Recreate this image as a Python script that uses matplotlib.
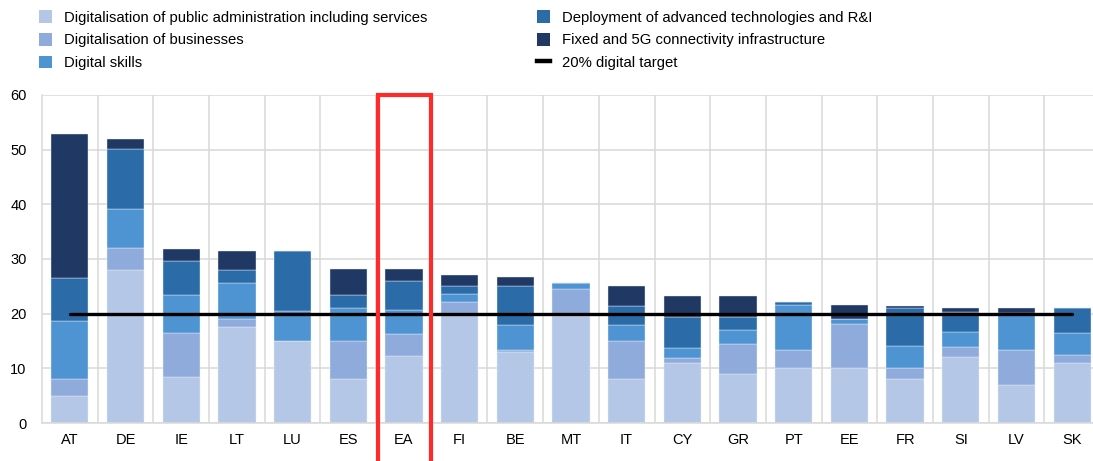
import numpy as np
import matplotlib
matplotlib.use("Agg")
import matplotlib.pyplot as plt
from matplotlib.patches import Patch, Rectangle
from matplotlib.lines import Line2D

plt.rcParams["font.family"] = ["Liberation Sans", "DejaVu Sans"]

countries = ["AT", "DE", "IE", "LT", "LU", "ES", "EA", "FI", "BE", "MT",
             "IT", "CY", "GR", "PT", "EE", "FR", "SI", "LV", "SK"]

public_admin = [5.0, 28.0, 8.5, 17.5, 15.0, 8.0, 12.2, 20.0, 13.0, 19.5,
                8.0, 10.9, 8.9, 10.0, 10.0, 8.0, 12.0, 7.0, 11.0]
businesses = [3.0, 4.0, 8.0, 1.5, 0.0, 7.0, 4.0, 2.2, 0.4, 5.1,
              7.0, 0.9, 5.5, 3.4, 8.2, 2.0, 1.9, 6.4, 1.4]
skills = [10.6, 7.1, 7.0, 6.6, 5.5, 6.0, 4.5, 1.4, 4.6, 1.0,
          3.0, 2.0, 2.6, 8.2, 0.85, 4.0, 2.7, 6.8, 4.1]
advanced_tech = [8.0, 11.0, 6.1, 2.4, 11.0, 2.5, 5.2, 1.5, 7.0, 0.0,
                 3.4, 5.5, 2.4, 0.6, 0.0, 7.0, 3.7, 0.0, 4.6]
connectivity = [26.2, 1.9, 2.2, 3.5, 0.0, 4.7, 2.2, 1.9, 1.7, 0.0,
                3.6, 4.0, 3.8, 0.0, 2.55, 0.4, 0.8, 0.9, 0.0]

series_labels = ["Digitalisation of public administration including services",
                 "Digitalisation of businesses",
                 "Digital skills",
                 "Deployment of advanced technologies and R&I",
                 "Fixed and 5G connectivity infrastructure"]
colors = ["#b4c7e7", "#8fabdc", "#4f94d2", "#2b6ca8", "#203864"]
target = 20
target_label = "20% digital target"

fig = plt.figure(figsize=(10.93, 4.61), dpi=100)
W, H = 1093, 461
ax = fig.add_axes([42 / W, (H - 423) / H, (1100 - 42) / W, 328 / H])

x = np.arange(len(countries))
bottom = np.zeros(len(countries))
for vals, col in zip([public_admin, businesses, skills, advanced_tech, connectivity], colors):
    v = np.array(vals)
    ax.bar(x, v, width=0.67, bottom=bottom, color=col, edgecolor="#e8eef8",
           linewidth=0.3, zorder=2)
    bottom += v

ax.plot([x[0], x[-1]], [target, target], color="black", lw=2.4,
        solid_capstyle="round", zorder=3)

ax.add_patch(Rectangle((5.53, -20), 0.95, 80.05, fill=False, edgecolor="#ff2a2a",
                       lw=3, clip_on=False, zorder=5))

ax.set_xlim(-0.5, len(countries) - 0.5)
ax.set_ylim(0, 60)
ax.set_yticks(range(0, 61, 10))
ax.set_xticks(x)
ax.set_xticklabels(countries)
ax.set_xticks(np.arange(0.5, len(countries) - 0.5), minor=True)
ax.tick_params(axis="both", which="both", length=0, labelsize=10.5, colors="black")
ax.tick_params(axis="x", pad=7)
ax.tick_params(axis="y", pad=11)
ax.grid(axis="y", which="major", color="#d9d9d9", lw=1.1, zorder=0)
ax.grid(axis="x", which="minor", color="#d9d9d9", lw=1.1, zorder=0)
for s in ["top", "right"]:
    ax.spines[s].set_visible(False)
for s in ["left", "bottom"]:
    ax.spines[s].set_color("#d9d9d9")
    ax.spines[s].set_linewidth(1.1)

h1 = [Patch(facecolor=c) for c in colors[:3]]
h2 = [Patch(facecolor=c) for c in colors[3:]] + [Line2D([], [], color="black", lw=3.2)]
kw = dict(frameon=False, loc="upper left", fontsize=10.7, borderpad=0,
          borderaxespad=0, handlelength=0.85, handleheight=0.95,
          handletextpad=0.8, labelspacing=0.56)
fig.legend(h1, series_labels[:3], bbox_to_anchor=(39 / W, 1 - 10 / H), **kw)
fig.legend(h2, series_labels[3:] + [target_label],
           bbox_to_anchor=(537 / W, 1 - 10 / H), **kw)

fig.savefig("out.png", dpi=100)
